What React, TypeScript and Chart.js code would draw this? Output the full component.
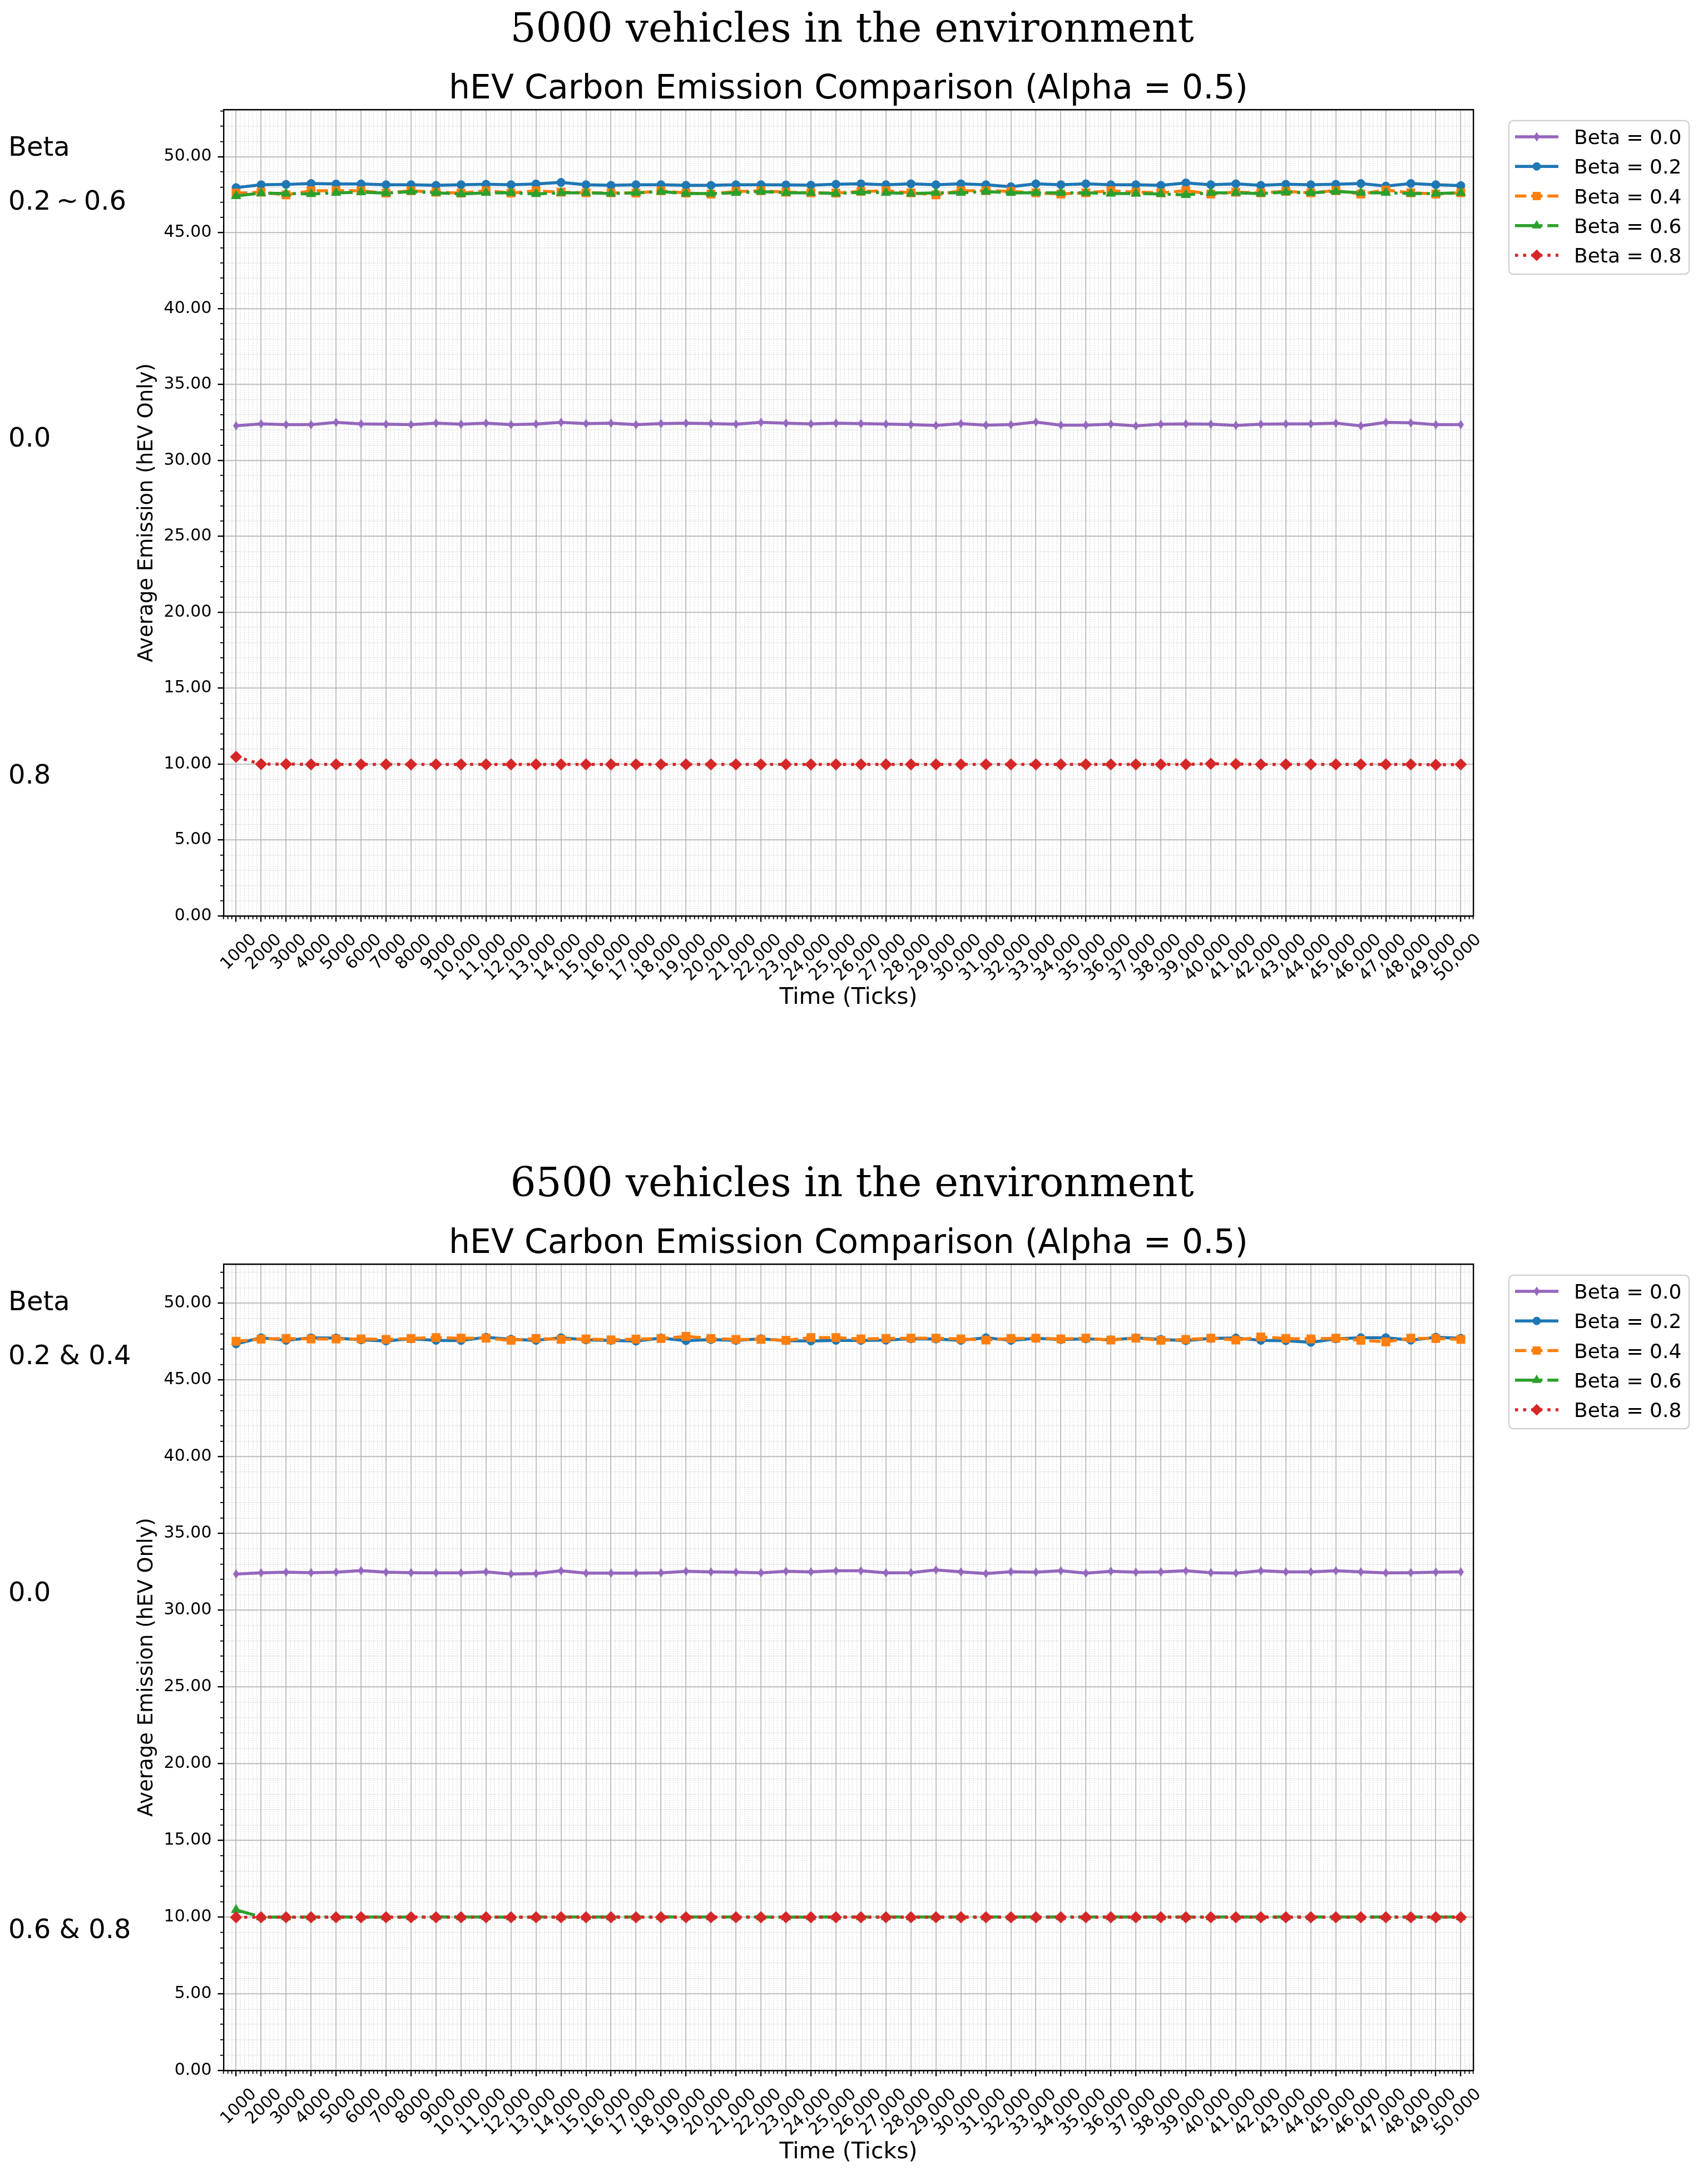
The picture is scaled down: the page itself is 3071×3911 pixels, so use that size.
import React, { useEffect, useRef } from 'react';
import { Chart, registerables } from 'chart.js';

Chart.register(...registerables);

// ---------------- data ----------------
const X_LABELS = [
  '1000', '2000', '3000', '4000', '5000', '6000', '7000', '8000', '9000', '10,000',
  '11,000', '12,000', '13,000', '14,000', '15,000', '16,000', '17,000', '18,000', '19,000', '20,000',
  '21,000', '22,000', '23,000', '24,000', '25,000', '26,000', '27,000', '28,000', '29,000', '30,000',
  '31,000', '32,000', '33,000', '34,000', '35,000', '36,000', '37,000', '38,000', '39,000', '40,000',
  '41,000', '42,000', '43,000', '44,000', '45,000', '46,000', '47,000', '48,000', '49,000', '50,000',
];
const Y_TICKS = [0, 5, 10, 15, 20, 25, 30, 35, 40, 45, 50];
const SERIES_LABELS = ['Beta = 0.0', 'Beta = 0.2', 'Beta = 0.4', 'Beta = 0.6', 'Beta = 0.8'];

// 5000 vehicles
const V5000_B00 = [
  32.28, 32.40, 32.35, 32.35, 32.50, 32.40, 32.38, 32.35, 32.45, 32.38,
  32.45, 32.35, 32.39, 32.50, 32.42, 32.45, 32.35, 32.42, 32.45, 32.42,
  32.38, 32.50, 32.45, 32.40, 32.45, 32.42, 32.39, 32.35, 32.30, 32.42,
  32.32, 32.35, 32.52, 32.32, 32.32, 32.38, 32.27, 32.38, 32.40, 32.38,
  32.30, 32.38, 32.40, 32.40, 32.45, 32.27, 32.50, 32.47, 32.35, 32.35,
];
const V5000_B02 = [
  47.96, 48.15, 48.17, 48.23, 48.20, 48.20, 48.15, 48.15, 48.11, 48.15,
  48.18, 48.15, 48.20, 48.30, 48.15, 48.11, 48.15, 48.15, 48.11, 48.11,
  48.15, 48.15, 48.14, 48.12, 48.18, 48.21, 48.15, 48.21, 48.15, 48.21,
  48.15, 48.02, 48.21, 48.15, 48.21, 48.15, 48.15, 48.11, 48.27, 48.15,
  48.21, 48.11, 48.18, 48.15, 48.18, 48.23, 48.06, 48.23, 48.15, 48.09,
];
const V5000_B04 = [
  47.60, 47.66, 47.48, 47.75, 47.76, 47.75, 47.60, 47.75, 47.66, 47.60,
  47.75, 47.60, 47.75, 47.66, 47.62, 47.62, 47.60, 47.75, 47.60, 47.54,
  47.71, 47.75, 47.66, 47.62, 47.60, 47.71, 47.75, 47.62, 47.48, 47.75,
  47.76, 47.71, 47.62, 47.54, 47.62, 47.75, 47.66, 47.62, 47.76, 47.54,
  47.66, 47.62, 47.71, 47.62, 47.76, 47.54, 47.80, 47.62, 47.54, 47.62,
];
const V5000_B06 = [
  47.41, 47.60, 47.57, 47.54, 47.62, 47.66, 47.60, 47.70, 47.62, 47.54,
  47.62, 47.62, 47.54, 47.62, 47.62, 47.57, 47.62, 47.70, 47.57, 47.57,
  47.62, 47.70, 47.62, 47.62, 47.57, 47.66, 47.62, 47.57, 47.62, 47.62,
  47.70, 47.62, 47.62, 47.62, 47.62, 47.57, 47.57, 47.54, 47.48, 47.62,
  47.62, 47.57, 47.66, 47.62, 47.70, 47.62, 47.62, 47.57, 47.57, 47.62,
];
const V5000_B08 = [
  10.48, 10.00, 10.00, 9.98, 9.98, 9.98, 9.98, 9.98, 9.98, 9.98,
  9.98, 9.98, 9.98, 9.98, 9.98, 9.98, 9.98, 9.98, 9.98, 9.98,
  9.98, 9.98, 9.98, 9.98, 9.98, 9.98, 9.98, 9.98, 9.98, 9.98,
  9.98, 9.98, 9.98, 9.98, 9.98, 9.98, 9.98, 9.98, 9.98, 10.02,
  10.00, 9.98, 9.98, 9.98, 9.98, 9.98, 9.98, 9.98, 9.95, 9.98,
];

// 6500 vehicles
const V6500_B00 = [
  32.35, 32.43, 32.47, 32.44, 32.47, 32.57, 32.47, 32.44, 32.43, 32.43,
  32.49, 32.35, 32.38, 32.56, 32.41, 32.41, 32.41, 32.43, 32.53, 32.49,
  32.47, 32.43, 32.53, 32.49, 32.56, 32.56, 32.43, 32.44, 32.62, 32.49,
  32.38, 32.50, 32.47, 32.56, 32.41, 32.53, 32.47, 32.49, 32.56, 32.44,
  32.41, 32.56, 32.49, 32.49, 32.56, 32.49, 32.43, 32.44, 32.47, 32.49,
];
const V6500_B02 = [
  47.35, 47.75, 47.58, 47.74, 47.73, 47.61, 47.54, 47.68, 47.58, 47.57,
  47.78, 47.65, 47.58, 47.75, 47.61, 47.58, 47.53, 47.73, 47.56, 47.63,
  47.58, 47.68, 47.56, 47.54, 47.58, 47.58, 47.59, 47.68, 47.67, 47.58,
  47.75, 47.58, 47.71, 47.63, 47.68, 47.61, 47.74, 47.64, 47.56, 47.71,
  47.73, 47.58, 47.56, 47.45, 47.68, 47.75, 47.75, 47.59, 47.78, 47.71,
];
const V6500_B04 = [
  47.52, 47.66, 47.70, 47.67, 47.67, 47.67, 47.64, 47.70, 47.76, 47.72,
  47.72, 47.58, 47.70, 47.64, 47.67, 47.61, 47.66, 47.70, 47.84, 47.70,
  47.64, 47.64, 47.58, 47.76, 47.76, 47.67, 47.70, 47.72, 47.72, 47.67,
  47.60, 47.70, 47.72, 47.67, 47.72, 47.60, 47.72, 47.58, 47.64, 47.72,
  47.60, 47.80, 47.70, 47.67, 47.72, 47.58, 47.48, 47.72, 47.70, 47.64,
];
const V6500_B06 = [
  10.46, 10.00, 9.99, 10.00, 10.00, 10.00, 9.99, 10.00, 10.00, 10.00,
  10.00, 9.99, 10.00, 10.00, 10.00, 10.00, 10.00, 10.01, 10.00, 10.00,
  10.00, 10.00, 9.99, 10.00, 10.00, 10.00, 10.00, 10.00, 10.00, 10.00,
  10.00, 10.00, 10.00, 10.00, 10.00, 10.00, 10.00, 10.00, 10.00, 10.00,
  10.00, 10.00, 10.00, 10.00, 10.00, 10.00, 10.00, 10.00, 10.00, 10.00,
];
const V6500_B08 = [
  9.98, 9.98, 9.98, 9.98, 9.98, 9.98, 9.98, 9.98, 9.98, 9.98,
  9.98, 9.98, 9.98, 9.98, 9.98, 9.98, 9.98, 9.98, 9.98, 9.98,
  9.98, 9.98, 9.98, 9.98, 9.98, 9.98, 9.98, 9.98, 9.98, 9.98,
  9.98, 9.98, 9.98, 9.98, 9.98, 9.98, 9.98, 9.98, 9.98, 9.98,
  9.98, 9.98, 9.98, 9.98, 9.98, 9.98, 9.98, 9.98, 9.98, 9.98,
];

const Y_MAX_5000 = 53.1;
const Y_MAX_6500 = 52.55;

// ---------------- layout & style ----------------
const FONT = 'DejaVu Sans';
const COLORS = ['#9467bd', '#1f77b4', '#ff7f0e', '#2ca02c', '#d62728'];
const LW = 5.5;
const DASHES = [[], [], [3.7 * LW, 1.6 * LW], [6.4 * LW, 1.6 * LW, 1 * LW, 1.6 * LW], [1 * LW, 1.65 * LW]];
const CW = 2680;
const CH = 1860;
const PLOT_LEFT = 402;
const PLOT_TOP = 197;
const PLOT_RIGHT = 2649;
const PLOT_BOTTOM = 1647;
const XAXIS_H = 180;
const MAJOR_GRID = 'rgba(176,176,176,0.75)';
const MINOR_GRID = 'rgba(176,176,176,0.55)';
const PANEL_SHIFT = 2076;

const PANELS = [
  {
    top: 0,
    suptitle: '5000 vehicles in the environment',
    yMax: Y_MAX_5000,
    series: [V5000_B00, V5000_B02, V5000_B04, V5000_B06, V5000_B08],
    notes: [
      { text: 'Beta', y: 280 },
      { text: '0.2\u2009~\u20090.6', y: 377 },
      { text: '0.0', y: 803 },
      { text: '0.8', y: 1409 },
    ],
  },
  {
    top: PANEL_SHIFT,
    suptitle: '6500 vehicles in the environment',
    yMax: Y_MAX_6500,
    series: [V6500_B00, V6500_B02, V6500_B04, V6500_B06, V6500_B08],
    notes: [
      { text: 'Beta', y: 280 },
      { text: '0.2 & 0.4', y: 377 },
      { text: '0.0', y: 803 },
      { text: '0.6 & 0.8', y: 1409 },
    ],
  },
];

function thinDiamond(color: string) {
  const c = document.createElement('canvas');
  c.width = 12;
  c.height = 18;
  const ctx = c.getContext('2d')!;
  ctx.fillStyle = color;
  ctx.beginPath();
  ctx.moveTo(6, 0.5);
  ctx.lineTo(11.5, 9);
  ctx.lineTo(6, 17.5);
  ctx.lineTo(0.5, 9);
  ctx.closePath();
  ctx.fill();
  return c;
}

function makeConfig(series: number[][], yMax: number): any {
  const styles: any[] = [thinDiamond(COLORS[0]), 'circle', 'rect', 'triangle', 'rectRot'];
  const radii = [6, 7.5, 10.5, 10, 10.5];
  const datasets = series.map((data, i) => ({
    label: SERIES_LABELS[i],
    data,
    borderColor: COLORS[i],
    backgroundColor: COLORS[i],
    borderWidth: LW,
    borderDash: DASHES[i],
    borderCapStyle: 'butt',
    borderJoinStyle: 'round',
    pointStyle: styles[i],
    pointRadius: radii[i],
    pointBorderWidth: 1,
    pointBackgroundColor: COLORS[i],
    pointBorderColor: COLORS[i],
    tension: 0,
    fill: false,
    order: 4 - i,
    clip: false,
  }));

  const minorX: number[] = [];
  for (let k = -3; k <= 297; k++) if (k % 6 !== 0) minorX.push(k / 6);
  const minorY: number[] = [];
  for (let v = 1; v <= Math.floor(yMax); v++) if (v % 5 !== 0) minorY.push(v);

  const tickFont = { family: FONT, size: 30 };

  return {
    type: 'line',
    data: { labels: X_LABELS, datasets },
    options: {
      responsive: false,
      maintainAspectRatio: false,
      animation: false,
      devicePixelRatio: 1,
      events: [],
      layout: {
        padding: { left: 0, top: PLOT_TOP, right: CW - PLOT_RIGHT, bottom: CH - PLOT_BOTTOM - XAXIS_H },
      },
      plugins: { legend: { display: false }, tooltip: { enabled: false }, title: { display: false } },
      scales: {
        x: {
          type: 'category',
          position: 'bottom',
          weight: 1,
          offset: true,
          grid: {
            display: true, offset: false, color: MAJOR_GRID, lineWidth: 2.2,
            drawTicks: true, tickLength: 10.5, tickWidth: 2.4, tickColor: '#000',
          },
          border: { display: true, color: '#000', width: 2.4 },
          ticks: {
            autoSkip: false, maxRotation: 45, minRotation: 45, labelOffset: 32, padding: 15,
            color: '#000', font: tickFont,
          },
          title: {
            display: true, text: 'Time (Ticks)', color: '#000', font: { family: FONT, size: 41 },
            padding: { top: 0, bottom: 8 },
          },
          afterFit: (s: any) => { s.height = XAXIS_H; },
        },
        xm: {
          type: 'linear',
          position: 'bottom',
          weight: 0,
          min: -0.5,
          max: 49.5,
          afterBuildTicks: (s: any) => { s.ticks = minorX.map((v) => ({ value: v })); },
          grid: {
            display: true, color: MINOR_GRID, lineWidth: 1.5,
            drawTicks: true, tickLength: 6, tickWidth: 1.8, tickColor: '#000',
          },
          border: { display: false, dash: [1.5, 2.5] },
          ticks: { display: false },
          afterFit: (s: any) => { s.height = 0; },
        },
        xt: {
          type: 'category',
          position: 'top',
          grid: { display: false, drawTicks: false },
          border: { display: true, color: '#000', width: 2.4 },
          ticks: { display: false },
          afterFit: (s: any) => { s.height = 0; },
        },
        y: {
          type: 'linear',
          position: 'left',
          weight: 1,
          min: 0,
          max: yMax,
          afterBuildTicks: (s: any) => { s.ticks = Y_TICKS.map((v) => ({ value: v })); },
          grid: {
            display: true, color: MAJOR_GRID, lineWidth: 2.2,
            drawTicks: true, tickLength: 10.5, tickWidth: 2.4, tickColor: '#000',
          },
          border: { display: true, color: '#000', width: 2.4 },
          ticks: {
            padding: 11, color: '#000', font: tickFont, maxTicksLimit: 30,
            callback: (v: any) => Number(v).toFixed(2),
          },
          title: {
            display: true, text: 'Average Emission (hEV Only)', color: '#000', font: { family: FONT, size: 37 },
            padding: { top: 242, bottom: 0 },
          },
          afterFit: (s: any) => { s.width = PLOT_LEFT; },
        },
        ym: {
          type: 'linear',
          position: 'left',
          weight: 0,
          min: 0,
          max: yMax,
          afterBuildTicks: (s: any) => { s.ticks = minorY.map((v) => ({ value: v })); },
          grid: {
            display: true, color: MINOR_GRID, lineWidth: 1.5,
            drawTicks: true, tickLength: 6, tickWidth: 1.8, tickColor: '#000',
          },
          border: { display: false, dash: [1.5, 2.5] },
          ticks: { display: false },
          afterFit: (s: any) => { s.width = 0; },
        },
        yr: {
          type: 'linear',
          position: 'right',
          min: 0,
          max: yMax,
          grid: { display: false, drawTicks: false },
          border: { display: true, color: '#000', width: 2.4 },
          ticks: { display: false },
          afterFit: (s: any) => { s.width = 0; },
        },
      },
    },
  };
}

function PanelChart({ top, series, yMax }: { top: number; series: number[][]; yMax: number }) {
  const ref = useRef<HTMLCanvasElement>(null);
  useEffect(() => {
    const chart = new Chart(ref.current as HTMLCanvasElement, makeConfig(series, yMax));
    return () => chart.destroy();
  }, []);
  return (
    <canvas
      ref={ref}
      width={CW}
      height={CH}
      style={{ position: 'absolute', left: 0, top, width: CW, height: CH, display: 'block' }}
    />
  );
}

function LegendMarker({ i, x, y }: { i: number; x: number; y: number }) {
  const c = COLORS[i];
  if (i === 0) return <polygon points={`${x},${y - 8.5} ${x + 5.5},${y} ${x},${y + 8.5} ${x - 5.5},${y}`} fill={c} />;
  if (i === 1) return <circle cx={x} cy={y} r={7.5} fill={c} />;
  if (i === 2) return <rect x={x - 7.4} y={y - 7.4} width={14.8} height={14.8} fill={c} />;
  if (i === 3) return <polygon points={`${x},${y - 10} ${x + 8.66},${y + 5} ${x - 8.66},${y + 5}`} fill={c} />;
  return <polygon points={`${x},${y - 10.5} ${x + 10.5},${y} ${x},${y + 10.5} ${x - 10.5},${y}`} fill={c} />;
}

function Overlay() {
  return (
    <svg
      width={3071}
      height={3911}
      style={{ position: 'absolute', left: 0, top: 0, pointerEvents: 'none' }}
    >
      {PANELS.map((p, pi) => {
        const oy = p.top;
        const lx = 2713;
        const ly = 217 + oy;
        return (
          <g key={pi}>
            <text x={1532} y={75 + oy} textAnchor="middle" fontFamily="DejaVu Serif" fontSize={72.5} fill="#000">
              {p.suptitle}
            </text>
            <text x={(PLOT_LEFT + PLOT_RIGHT) / 2} y={177 + oy} textAnchor="middle" fontFamily={FONT} fontSize={60} fill="#000">
              hEV Carbon Emission Comparison (Alpha = 0.5)
            </text>
            {p.notes.map((n, ni) => (
              <text key={ni} x={15} y={n.y + oy} fontFamily={FONT} fontSize={48} fill="#000">
                {n.text}
              </text>
            ))}
            <rect x={lx} y={ly} width={324} height={276} rx={8} fill="#fff" fillOpacity={0.8} stroke="#d2d2d2" strokeWidth={2.4} />
            {SERIES_LABELS.map((lab, i) => {
              const cy = ly + 29 + i * 53.25;
              return (
                <g key={i}>
                  <line
                    x1={lx + 11} x2={lx + 89} y1={cy} y2={cy}
                    stroke={COLORS[i]} strokeWidth={LW}
                    strokeDasharray={DASHES[i].length ? DASHES[i].join(' ') : undefined}
                  />
                  <LegendMarker i={i} x={lx + 50} y={cy} />
                  <text x={lx + 117} y={cy + 13} fontFamily={FONT} fontSize={36} fill="#000">
                    {lab}
                  </text>
                </g>
              );
            })}
          </g>
        );
      })}
    </svg>
  );
}

export default function App() {
  return (
    <div style={{ position: 'absolute', left: 0, top: 0, width: 3071, height: 3911, background: '#fff', overflow: 'hidden' }}>
      {PANELS.map((p, i) => (
        <PanelChart key={i} top={p.top} series={p.series} yMax={p.yMax} />
      ))}
      <Overlay />
    </div>
  );
}
